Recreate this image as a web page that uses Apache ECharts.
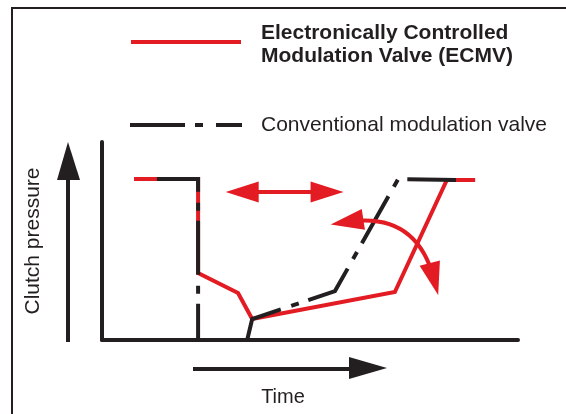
<!DOCTYPE html>
<html>
<head>
<meta charset="utf-8">
<script src="https://cdn.jsdelivr.net/npm/echarts@6/dist/echarts.min.js"></script>
<style>
  html, body { margin: 0; padding: 0; background: #fff; }
  #chart { width: 566px; height: 414px; }
</style>
</head>
<body>
<div id="chart"></div>
<script>
// time and pressure both in arbitrary units 0..100
const ecmvTime = [7.7, 23.1, 23.1, 32.7, 36.1, 70.4, 82.9, 89.7];
const ecmvPressure = [81.3, 81.3, 33.8, 23.7, 10.6, 24.2, 80.8, 80.8];
const convTime = [13.2, 23.1, 23.1, 34.9, 36.1, 56.0, 71.2, 85.1];
const convPressure = [81.3, 81.3, 0, 0, 10.6, 24.7, 81.3, 80.8];
// annotation arrows: [from, to]
const shiftArrow = [[33.7, 74.7], [54.1, 74.7]];
const sweepArrow = [[58.9, 59.6], [79.8, 30.8]];

const legendNames = ["Electronically Controlled", "Modulation Valve (ECMV)", "Conventional modulation valve"];
const axisNames = ["Clutch pressure", "Time"];

const RED = "#e31b23";
const INK = "#231f20";
const FONT = "'Liberation Sans', Arial, Helvetica, sans-serif";

const myChart = echarts.init(document.getElementById("chart"), null, { renderer: "canvas" });

const pairs = (xs, ys) => xs.map((x, i) => [x, ys[i]]);

const hiddenAxis = {
  type: "value",
  min: 0,
  max: 100,
  axisLine: { show: true, lineStyle: { color: INK, width: 4 } },
  axisTick: { show: false },
  axisLabel: { show: false },
  splitLine: { show: false },
};

var option = {
  animation: false,
  backgroundColor: "#fff",
  grid: { left: 102, top: 142, right: 48, bottom: 74 },
  xAxis: Object.assign({}, hiddenAxis),
  yAxis: Object.assign({}, hiddenAxis),
  series: [
    {
      name: legendNames[0],
      type: "line",
      data: pairs(ecmvTime, ecmvPressure),
      symbol: "none",
      z: 2,
      lineStyle: { color: RED, width: 4, join: "miter" },
    },
    {
      name: legendNames[2],
      type: "line",
      data: pairs(convTime, convPressure),
      symbol: "none",
      z: 3,
      // dash - dot - dash
      lineStyle: { color: INK, width: 4, type: [54, 11, 8, 10], join: "miter" },
    },
    {
      type: "lines",
      coordinateSystem: "cartesian2d",
      symbol: ["triangle", "triangle"],
      // [start size, end size], each [width, length]
      symbolSize: [[21, 33], [21, 33]],
      z: 4,
      lineStyle: { color: RED, width: 4, opacity: 1 },
      data: [
        { coords: shiftArrow, lineStyle: { curveness: 0 } },
        { coords: sweepArrow, lineStyle: { curveness: 0.45 } },
      ],
    },
  ],
  graphic: [
    // frame
    {
      type: "polyline",
      shape: { points: [[12, 414], [12, 8], [566, 8]] },
      style: { stroke: INK, lineWidth: 2, fill: null },
    },
    // legend
    {
      type: "line",
      shape: { x1: 131, y1: 42, x2: 241, y2: 42 },
      style: { stroke: RED, lineWidth: 4 },
    },
    {
      type: "line",
      shape: { x1: 130, y1: 125, x2: 242, y2: 125 },
      style: { stroke: INK, lineWidth: 4, lineDash: [55, 10, 8, 13] },
    },
    {
      type: "text",
      x: 261,
      y: 33,
      style: { text: legendNames[0], font: "bold 21px " + FONT, fill: INK, verticalAlign: "middle" },
    },
    {
      type: "text",
      x: 261,
      y: 56,
      style: { text: legendNames[1], font: "bold 21px " + FONT, fill: INK, verticalAlign: "middle" },
    },
    {
      type: "text",
      x: 261,
      y: 125,
      style: { text: legendNames[2], font: "21px " + FONT, fill: INK, verticalAlign: "middle" },
    },
    // axis arrows
    {
      type: "line",
      shape: { x1: 68, y1: 342, x2: 68, y2: 175 },
      style: { stroke: INK, lineWidth: 4 },
    },
    {
      type: "polygon",
      shape: { points: [[68, 142], [57, 180], [80, 180]] },
      style: { fill: INK },
    },
    {
      type: "line",
      shape: { x1: 193, y1: 369, x2: 352, y2: 369 },
      style: { stroke: INK, lineWidth: 4 },
    },
    {
      type: "polygon",
      shape: { points: [[387, 368], [349, 357], [349, 379]] },
      style: { fill: INK },
    },
    {
      type: "text",
      x: 33,
      y: 241,
      rotation: Math.PI / 2,
      style: { text: axisNames[0], font: "21px " + FONT, fill: INK, align: "center", verticalAlign: "middle" },
    },
    {
      type: "text",
      x: 283,
      y: 397,
      style: { text: axisNames[1], font: "20px " + FONT, fill: INK, align: "center", verticalAlign: "middle" },
    },
  ],
};

myChart.setOption(option);
</script>
</body>
</html>
